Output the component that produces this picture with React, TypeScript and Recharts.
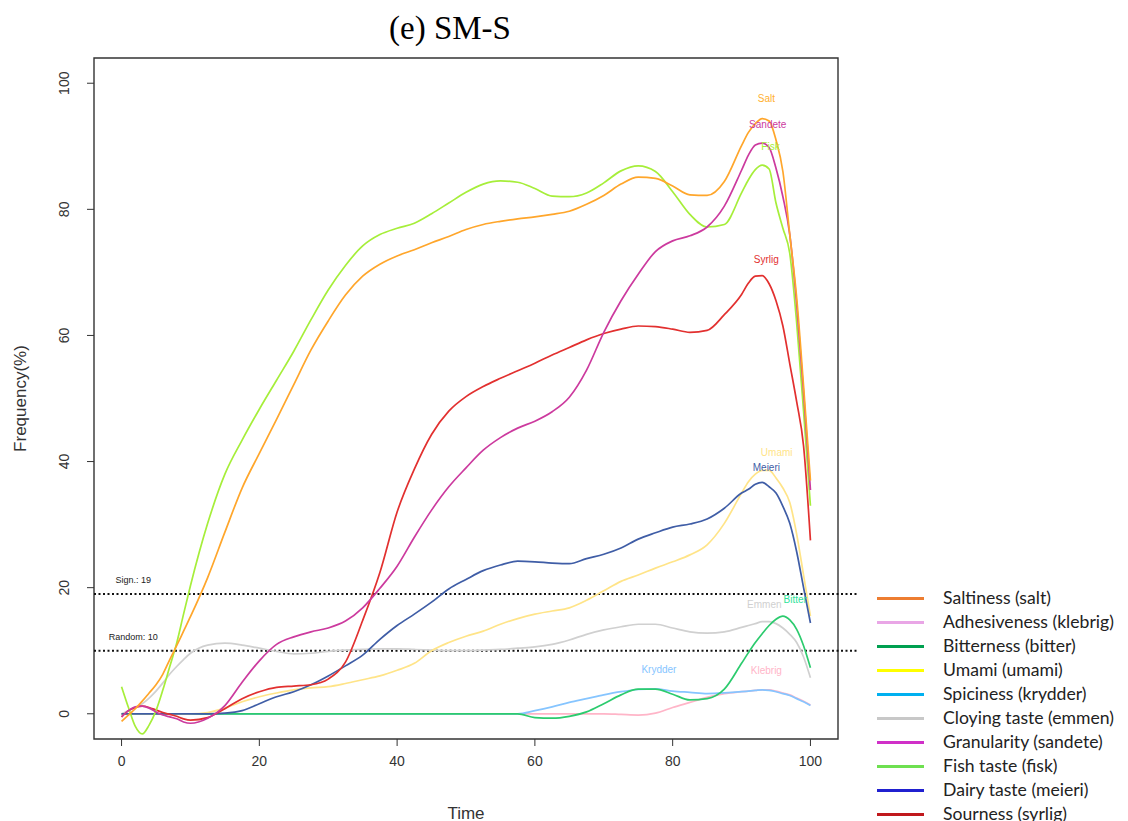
import React from 'react';
import { LineChart, Line, XAxis, YAxis, ReferenceLine, ReferenceDot, ReferenceArea } from 'recharts';

const time = [0,1,2,3,4,5,6,7,8,9,10,12.5,15,17.5,20,22.5,25,27.5,30,32.5,35,37.5,40,42.5,45,47.5,50,52.5,55,57.5,60,62.5,65,67.5,70,72.5,75,77.5,80,82.5,85,87.5,90,91,92,93,94,95,96,97,98,99,100];

const salt = [-1.2,-0.2,0.8,2.0,3.3,4.6,6.3,8.6,10.8,13.1,15.4,
  21.6,28.8,35.8,41.3,46.7,52.2,57.7,62.3,66.4,69.4,71.3,72.6,73.6,74.7,75.7,76.8,77.6,78.1,78.5,78.8,79.2,79.7,80.8,82.2,84.0,85.1,84.9,83.7,82.3,82.2,84.4,
  90.1,92.2,93.6,94.4,94.0,91.0,86,76,66,52,37];
const fisk = [4.3,1.0,-2.0,-3.2,-1.8,0.5,3.8,7.5,11.2,15.8,20.3,
  30.2,38.0,43.4,48.3,52.9,57.5,62.5,67.2,71.1,74.2,76.0,77.0,77.8,79.3,81.0,82.7,84.0,84.5,84.3,83.3,82.1,82.0,82.6,84.2,86.1,86.9,86.0,82.8,79.2,77.2,77.6,
  82.6,84.7,86.3,87.0,86.4,81,77,73,62,48,33];
const sandete = [-0.5,0.5,1.1,1.2,0.9,0.3,-0.2,-0.5,-0.8,-1.3,-1.5,
  -0.7,1.3,5.0,8.4,11.0,12.2,13.0,13.6,14.7,16.8,19.9,23.4,28.0,32.3,36.0,39.0,41.8,43.8,45.3,46.4,47.9,50.2,54.5,60.5,65.5,69.7,73.3,75.0,75.8,77.2,80.5,
  86.2,88.6,90.2,90.5,89.8,86.5,82,76,65,51,35.5];
const syrlig = [-0.5,0.5,1.0,1.2,1.0,0.6,0.2,-0.1,-0.4,-0.8,-1.0,
  -0.6,0.8,2.4,3.5,4.2,4.4,4.6,5.5,8.2,14.8,22.4,32.0,38.8,44.3,48.0,50.3,51.9,53.2,54.4,55.6,56.9,58.1,59.3,60.3,61.0,61.5,61.4,61.0,60.5,60.8,63.3,
  66.5,68.3,69.4,69.5,68.2,65.5,61.5,55.5,49.5,42.5,27.5];
const umami = [0,0,0,0,0,0,0,0,0,0,0,
  0.2,0.9,1.9,2.7,3.3,3.8,4.1,4.3,4.8,5.4,6.0,6.9,8.0,10.0,11.3,12.3,13.1,14.2,15.1,15.8,16.3,16.8,18.0,19.5,21.0,22.0,23.1,24.1,25.2,26.8,30.2,
  35.0,36.8,38.0,38.6,38.6,37.4,35.8,33.5,28.5,22,15.5];
const meieri = [0,0,0,0,0,0,0,0,0,0,0,
  0,0.1,0.5,1.6,2.7,3.5,4.6,6.0,7.6,9.3,11.8,14.0,15.8,17.7,19.8,21.3,22.7,23.6,24.2,24.1,23.9,23.8,24.6,25.3,26.3,27.7,28.7,29.6,30.1,30.9,32.6,
  35.0,35.6,36.4,36.7,36.0,35.0,32.9,30.2,25.7,20.0,14.4];
const emmen = [0,0.5,1.0,1.6,2.5,3.6,4.9,6.3,7.5,8.6,9.6,
  10.9,11.2,10.9,10.4,9.9,9.5,9.6,9.9,10.1,10.2,10.3,10.3,10.2,10.1,10.0,10.0,10.1,10.2,10.4,10.6,11.0,11.7,12.6,13.3,13.8,14.2,14.2,13.6,13.0,12.8,13.0,
  13.7,14.0,14.3,14.6,14.6,14.3,13.6,12.6,11.3,9.0,5.7];
const bitter = [0,0,0,0,0,0,0,0,0,0,0,
  0,0,0,0,0,0,0,0,0,0,0,0,0,0,0,0,0,0,0,-0.6,-0.7,-0.4,0.3,1.6,3.0,3.9,3.9,3.1,2.2,2.4,3.9,
  8.0,9.7,11.3,12.7,14.0,15.0,15.5,14.9,13.4,10.8,7.3];
const krydder = [0,0,0,0,0,0,0,0,0,0,0,
  0,0,0,0,0,0,0,0,0,0,0,0,0,0,0,0,0,0,0,0.5,1.1,1.8,2.4,3.0,3.5,3.85,3.95,3.6,3.4,3.2,3.3,
  3.5,3.6,3.7,3.8,3.7,3.5,3.2,2.9,2.4,1.9,1.3];
const klebrig = [0,0,0,0,0,0,0,0,0,0,0,
  0,0,0,0,0,0,0,0,0,0,0,0,0,0,0,0,0,0,0,0,0,0,0,0,-0.1,-0.2,0.1,1.0,1.8,2.6,3.2,
  3.5,3.6,3.7,3.8,3.8,3.6,3.3,3.0,2.5,2.0,1.4];

const seriesKeys = ['emmen','klebrig','krydder','bitter','umami','meieri','syrlig','fisk','sandete','salt'];
const seriesColors = ['#D0D0D0','#FFB5C8','#86C5FF','#2CCB6E','#FFE488','#3F5DA6','#E2302F','#A6EE3A','#CC3A9E','#FFA62B'];
const seriesValues = [emmen, klebrig, krydder, bitter, umami, meieri, syrlig, fisk, sandete, salt];

const peakLabels = ['Emmen','Klebrig','Krydder','Bitter','Umami','Meieri','Syrlig','Fisk','Sandete','Salt'];
const peakLabelX = [93.3, 93.6, 78, 97.8, 95.1, 93.6, 93.6, 94.2, 93.8, 93.6];
const peakLabelY = [17.4, 6.8, 7.0, 18.2, 41.4, 39.1, 72.1, 90.0, 93.5, 97.5];
const peakLabelColors = ['#D0D0D0','#FFB5C8','#86C5FF','#2DE39A','#FFE488','#3F5DA6','#E2302F','#A6EE3A','#CC3A9E','#FFB030'];
const peakLabelOnTop = [true, true, true, true, true, true, true, false, true, true];

const refValues = [19, 10];
const refLabels = ['Sign.: 19', 'Random: 10'];

const xTicks = [0, 20, 40, 60, 80, 100];
const yTicks = [0, 20, 40, 60, 80, 100];

const legendLabels = ['Saltiness (salt)','Adhesiveness (klebrig)','Bitterness (bitter)','Umami (umami)','Spiciness (krydder)','Cloying taste (emmen)','Granularity (sandete)','Fish taste (fisk)','Dairy taste (meieri)','Sourness (syrlig)'];
const legendColors = ['#ED7D31','#E9A6E6','#00A050','#FFFF00','#00B0F0','#C8C8C8','#D030C8','#6EE050','#2020D0','#C0181C'];

const data = time.map((t, i) => {
  const row: any = { t };
  seriesKeys.forEach((k, j) => { row[k] = seriesValues[j][i]; });
  return row;
});

const AXIS_FONT = '"Liberation Sans", Arial, sans-serif';

const YTick = (props: any) => {
  const { x, y, payload } = props;
  const cx = x - 21;
  return (
    <text x={cx} y={y} textAnchor="middle" dominantBaseline="central" fontSize={14} fontFamily={AXIS_FONT} fill="#333" transform={`rotate(-90, ${cx}, ${y})`}>
      {payload.value}
    </text>
  );
};

const XTick = (props: any) => {
  const { x, y, payload } = props;
  return (
    <text x={x} y={y + 13} textAnchor="middle" dominantBaseline="central" fontSize={14} fontFamily={AXIS_FONT} fill="#333">
      {payload.value}
    </text>
  );
};

const peakLabel = (i: number) => (
  <ReferenceDot key={'pl' + i} x={peakLabelX[i]} y={peakLabelY[i]} r={0} ifOverflow="visible"
    shape={(p: any) => <text x={p.cx} y={p.cy} textAnchor="middle" dominantBaseline="central" fontSize={10} fontFamily={AXIS_FONT} fill={peakLabelColors[i]}>{peakLabels[i]}</text>} />
);

export default function App() {
  return (
    <div style={{ position: 'relative', width: 1120, height: 813 }}>
      <div style={{ position: 'absolute', left: 292, top: 2, width: 300, textAlign: 'center', fontFamily: '"Liberation Serif", "Times New Roman", serif', fontSize: 33, color: '#000' }}>
        (e) SM-S
      </div>
      <LineChart width={1120} height={813} data={data} margin={{ top: 50, right: 290, bottom: 52, left: 26 }}>
        <XAxis
          dataKey="t" type="number" domain={[-4, 104]} ticks={xTicks} allowDataOverflow
          axisLine={false} tickLine={{ stroke: '#333' }} tickSize={7} tickMargin={2} tick={<XTick />} height={30}
          label={(p: any) => {
            const vb = p.viewBox || {};
            return <text x={vb.x + vb.width / 2} y={vb.y + 74} textAnchor="middle" dominantBaseline="central" fontSize={17} fontFamily={AXIS_FONT} fill="#333">Time</text>;
          }}
        />
        <YAxis
          type="number" domain={[-4, 104]} ticks={yTicks} allowDataOverflow
          axisLine={false} tickLine={{ stroke: '#333' }} tickSize={7} tickMargin={2} tick={<YTick />} width={60}
          label={(p: any) => {
            const vb = p.viewBox || {};
            const cx = vb.x - 14;
            const cy = vb.y + vb.height / 2;
            return <text x={cx} y={cy} textAnchor="middle" dominantBaseline="central" fontSize={17} fontFamily={AXIS_FONT} fill="#333" transform={`rotate(-90, ${cx}, ${cy})`}>Frequency(%)</text>;
          }}
        />
        <ReferenceArea x1={-4} x2={104} y1={-4} y2={104} fill="none" stroke="#333" strokeWidth={1.4} ifOverflow="visible" />
        {refValues.map((v, i) => (
          <ReferenceLine key={'r' + i} segment={[{ x: -4, y: v }, { x: 107, y: v }]} stroke="#111" strokeWidth={2} strokeDasharray="2 2.5" ifOverflow="visible" />
        ))}
        {refValues.map((v, i) => (
          <ReferenceDot key={'rl' + i} x={1.7} y={v + 2.2} r={0} ifOverflow="visible"
            shape={(p: any) => <text x={p.cx} y={p.cy} textAnchor="middle" dominantBaseline="central" fontSize={9} fontFamily={AXIS_FONT} fill="#222">{refLabels[i]}</text>} />
        ))}
        {peakLabels.map((_, i) => (peakLabelOnTop[i] ? null : peakLabel(i)))}
        {seriesKeys.map((k, i) => (
          <Line key={k} dataKey={k} type="monotone" stroke={seriesColors[i]} strokeWidth={1.7} dot={false} isAnimationActive={false} />
        ))}
        {peakLabels.map((_, i) => (peakLabelOnTop[i] ? peakLabel(i) : null))}
      </LineChart>
      <div style={{ position: 'absolute', left: 852, top: 574, width: 268, height: 239, background: '#fff' }}>
        {legendLabels.map((lab, i) => (
          <div key={lab} style={{ position: 'absolute', left: 0, top: 4 + i * 24, height: 24 }}>
            <div style={{ position: 'absolute', left: 17, top: 11, width: 47, height: 3, background: legendColors[i] }} />
            <span style={{ position: 'absolute', left: 83, top: 0, whiteSpace: 'nowrap', lineHeight: '24px', fontSize: 17.6, fontFamily: 'Lato, "Liberation Sans", sans-serif', color: '#222' }}>{lab}</span>
          </div>
        ))}
      </div>
    </div>
  );
}
